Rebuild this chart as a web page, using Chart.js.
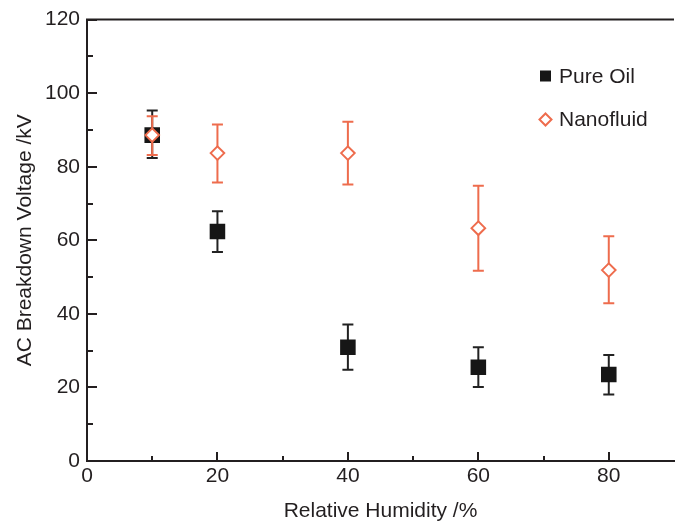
<!DOCTYPE html>
<html>
<head>
<meta charset="utf-8">
<script src="https://cdn.jsdelivr.net/npm/chart.js@4/dist/chart.umd.min.js"></script>
<style>
html,body{margin:0;padding:0;background:#fff;overflow:hidden;}
#c{display:block;}
</style>
</head>
<body>
<canvas id="c" width="685" height="524"></canvas>
<script>
// ---- data ----
const humidity = [10, 20, 40, 60, 80];
const pureOil = [88.6, 62.4, 30.9, 25.5, 23.5];
const pureOilHigh = [95.3, 67.9, 37.1, 30.9, 28.8];
const pureOilLow = [82.4, 56.8, 24.8, 20.1, 18.1];
const nanofluid = [88.6, 83.7, 83.7, 63.3, 51.9];
const nanofluidHigh = [93.7, 91.5, 92.2, 74.8, 61.1];
const nanofluidLow = [83.2, 75.7, 75.2, 51.7, 42.9];
const xTickValues = [0, 20, 40, 60, 80];
const xMinorValues = [10, 30, 50, 70];
const yTickValues = [0, 20, 40, 60, 80, 100, 120];
const yMinorValues = [10, 30, 50, 70, 90, 110];
const seriesLabels = ['Pure Oil', 'Nanofluid'];
const xTitle = 'Relative Humidity /%';
const yTitle = 'AC Breakdown Voltage /kV';

const FONT = '"Liberation Sans", Arial, Helvetica, sans-serif';
const TEXT = '#231f20';
const AXIS = '#231f20';
const BLACK = '#161616';
const ORANGE = '#ee6c4d';

const errorBars = {
  id: 'errorBars',
  beforeDatasetDraw(chart, args) {
    const ds = chart.data.datasets[args.index];
    if (!ds.errHigh) return;
    const xs = chart.scales.x, ys = chart.scales.y, ctx = chart.ctx;
    ctx.save();
    ctx.strokeStyle = ds.errColor;
    ctx.lineWidth = 2;
    ds.data.forEach((p, i) => {
      const x = xs.getPixelForValue(p.x);
      const yh = ys.getPixelForValue(ds.errHigh[i]);
      const yl = ys.getPixelForValue(ds.errLow[i]);
      ctx.beginPath();
      ctx.moveTo(x, yh); ctx.lineTo(x, yl);
      ctx.moveTo(x - 5.5, yh); ctx.lineTo(x + 5.5, yh);
      ctx.moveTo(x - 5.5, yl); ctx.lineTo(x + 5.5, yl);
      ctx.stroke();
    });
    ctx.restore();
  }
};

const frame = {
  id: 'frame',
  afterDraw(chart) {
    const {ctx, chartArea: a} = chart;
    const xs = chart.scales.x, ys = chart.scales.y;
    ctx.save();
    ctx.strokeStyle = AXIS;
    ctx.lineWidth = 2;
    ctx.beginPath();
    ctx.moveTo(a.left - 1, a.top);
    ctx.lineTo(a.right, a.top);
    xTickValues.forEach(v => { const x = Math.round(xs.getPixelForValue(v)); ctx.moveTo(x, a.bottom); ctx.lineTo(x, a.bottom - 9); });
    xMinorValues.forEach(v => { const x = Math.round(xs.getPixelForValue(v)); ctx.moveTo(x, a.bottom); ctx.lineTo(x, a.bottom - 5); });
    yTickValues.forEach(v => { const y = Math.round(ys.getPixelForValue(v)); ctx.moveTo(a.left, y); ctx.lineTo(a.left + 10, y); });
    yMinorValues.forEach(v => { const y = Math.round(ys.getPixelForValue(v)); ctx.moveTo(a.left, y); ctx.lineTo(a.left + 6, y); });
    ctx.stroke();
    ctx.restore();
  }
};

const legendBox = {
  id: 'legendBox',
  afterDraw(chart) {
    const ctx = chart.ctx;
    const mx = 545.5, rows = [76, 119.5], tx = 559;
    ctx.save();
    ctx.font = '21px ' + FONT;
    ctx.fillStyle = TEXT;
    ctx.textBaseline = 'middle';
    ctx.textAlign = 'left';
    chart.data.datasets.forEach((ds, i) => {
      const y = rows[i];
      if (ds.pointStyle === 'rect') {
        ctx.fillStyle = ds.pointBackgroundColor;
        ctx.fillRect(mx - 5.5, y - 5.5, 11, 11);
      } else {
        ctx.beginPath();
        ctx.moveTo(mx, y - 6); ctx.lineTo(mx + 6, y); ctx.lineTo(mx, y + 6); ctx.lineTo(mx - 6, y); ctx.closePath();
        ctx.fillStyle = '#fff'; ctx.fill();
        ctx.strokeStyle = ds.pointBorderColor; ctx.lineWidth = 2; ctx.stroke();
      }
      ctx.fillStyle = TEXT;
      ctx.fillText(ds.label, tx, y + 1);
    });
    ctx.restore();
  }
};

new Chart(document.getElementById('c'), {
  type: 'scatter',
  data: {
    datasets: [
      {
        label: seriesLabels[0],
        data: humidity.map((x, i) => ({x, y: pureOil[i]})),
        errHigh: pureOilHigh, errLow: pureOilLow, errColor: '#222',
        pointStyle: 'rect', pointRadius: 11,
        pointBackgroundColor: BLACK, pointBorderColor: BLACK, pointBorderWidth: 0,
        showLine: false, order: 2
      },
      {
        label: seriesLabels[1],
        data: humidity.map((x, i) => ({x, y: nanofluid[i]})),
        errHigh: nanofluidHigh, errLow: nanofluidLow, errColor: ORANGE,
        pointStyle: 'rectRot', pointRadius: 6.8,
        pointBackgroundColor: '#ffffff', pointBorderColor: ORANGE, pointBorderWidth: 2,
        showLine: false, order: 1
      }
    ]
  },
  options: {
    responsive: false,
    animation: false,
    devicePixelRatio: 1,
    layout: {padding: {top: 15, right: 0, left: 0, bottom: 0}},
    plugins: {legend: {display: false}, tooltip: {enabled: false}},
    scales: {
      x: {
        type: 'linear', min: 0, max: 90,
        afterBuildTicks: s => { s.ticks = xTickValues.map(v => ({value: v})); },
        afterFit: s => { s.height = 63; },
        grid: {display: false, drawTicks: false},
        border: {display: true, color: AXIS, width: 2},
        ticks: {padding: 3, color: TEXT, font: {family: FONT, size: 21}, maxRotation: 0},
        title: {display: true, text: xTitle, color: TEXT, font: {family: FONT, size: 21}, padding: {top: 0, bottom: 0}}
      },
      y: {
        type: 'linear', min: 0, max: 120,
        afterBuildTicks: s => { s.ticks = yTickValues.map(v => ({value: v})); },
        afterFit: s => { s.width = 87; },
        grid: {display: false, drawTicks: false},
        border: {display: true, color: AXIS, width: 2},
        ticks: {padding: 7, color: TEXT, font: {family: FONT, size: 21}},
        title: {display: true, text: yTitle, color: TEXT, font: {family: FONT, size: 21}, padding: {top: 13, bottom: 0}}
      }
    }
  },
  plugins: [errorBars, frame, legendBox]
});
</script>
</body>
</html>
